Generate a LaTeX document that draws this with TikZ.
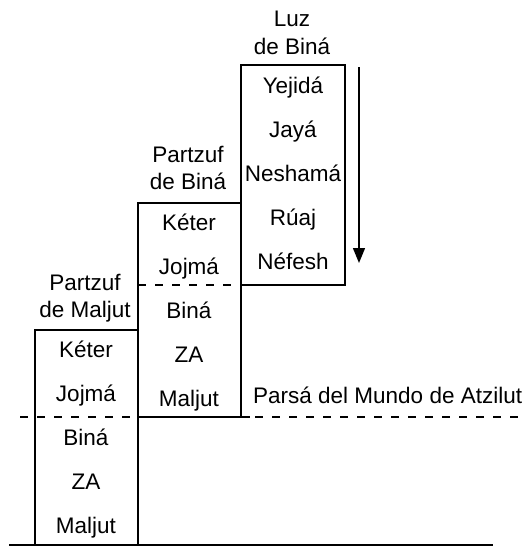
\documentclass[tikz,border=0pt]{standalone}
\usepackage{fontspec}
\setmainfont{Liberation Sans}
\usetikzlibrary{positioning, arrows.meta, calc}

\tikzset{
    lbl/.style={font=\fontsize{22.5}{26}\selectfont, inner sep=0pt, anchor=base},
    wall/.style={line width=1.4pt},
    cut/.style={line width=1.4pt, dash pattern=on 8pt off 9pt},
    flow/.style={line width=1.4pt, -{Triangle[length=15pt,width=12pt]}},
}

\begin{document}
\begin{tikzpicture}[x=1pt, y=-1pt]
    \useasboundingbox (0,0) rectangle (526,547);

    % corners of the three partzufim
    \coordinate (g-l) at (9,545);
    \coordinate (g-r) at (493,545);
    \coordinate (m-tl) at (35,330);
    \coordinate (m-tr) at (138,330);
    \coordinate (m-bl) at (35,545);
    \coordinate (b-tl) at (138,203);
    \coordinate (b-tr) at (241,203);
    \coordinate (b-bl) at (138,545);
    \coordinate (l-tl) at (241,65);
    \coordinate (l-bl) at (241,417);
    \coordinate (l-tr) at (345,65);
    \coordinate (l-br) at (345,285);
    \coordinate (l-bm) at (241,285);

    % parsa and the cut in Bina
    \coordinate (p-l) at (20,417);
    \coordinate (p-m) at (138,417);
    \coordinate (p-n) at (250,417);
    \coordinate (p-r) at (526,417);

    \draw[cut] (p-l) -- (p-m);
    \draw[cut] (255,417) -- (p-r);
    \draw[cut] (b-bl |- l-bm) -- (l-bm);

    % walls
    \draw[wall] (g-l) -- (g-r);
    \draw[wall] (m-bl) -- (m-tl) -- (m-tr);
    \draw[wall] (b-bl) -- (b-tl) -- (b-tr);
    \draw[wall] (p-m) -- (p-n);
    \draw[wall] (l-bl) -- (l-tl) -- (l-tr) -- (l-br) -- (l-bm);

    % light going down
    \coordinate (flow-top) at (359,67);
    \coordinate (flow-end) at (359,263);
    \draw[flow] (flow-top) -- (flow-end);

    % headings
    \foreach \name/\x/\y/\txt in {
        luz-a/292/26/Luz,
        luz-b/292/54/de Biná,
        bina-a/188/162/Partzuf,
        bina-b/188/189/de Biná,
        malj-a/85/290/Partzuf,
        malj-b/85/317/de Maljut}
    {
        \node[lbl] (\name) at (\x,\y) {\txt};
    }

    % sefirot
    \foreach \i/\txt/\y in {1/Yejidá/93, 2/Jayá/137, 3/Neshamá/181, 4/Rúaj/225, 5/Néfesh/269}
    {
        \node[lbl] (luz-\i) at (293,\y) {\txt};
    }
    \foreach \i/\txt/\y in {1/Kéter/230, 2/Jojmá/274, 3/Biná/318, 4/ZA/362, 5/Maljut/406}
    {
        \node[lbl] (bina-\i) at (189,\y) {\txt};
    }
    \foreach \i/\txt/\y in {1/Kéter/357, 2/Jojmá/401, 3/Biná/445, 4/ZA/489, 5/Maljut/533}
    {
        \node[lbl] (malj-\i) at (86,\y) {\txt};
    }

    \node[lbl, anchor=base west] (parsa) at (253,403) {Parsá del Mundo de Atzilut};
\end{tikzpicture}
\end{document}
